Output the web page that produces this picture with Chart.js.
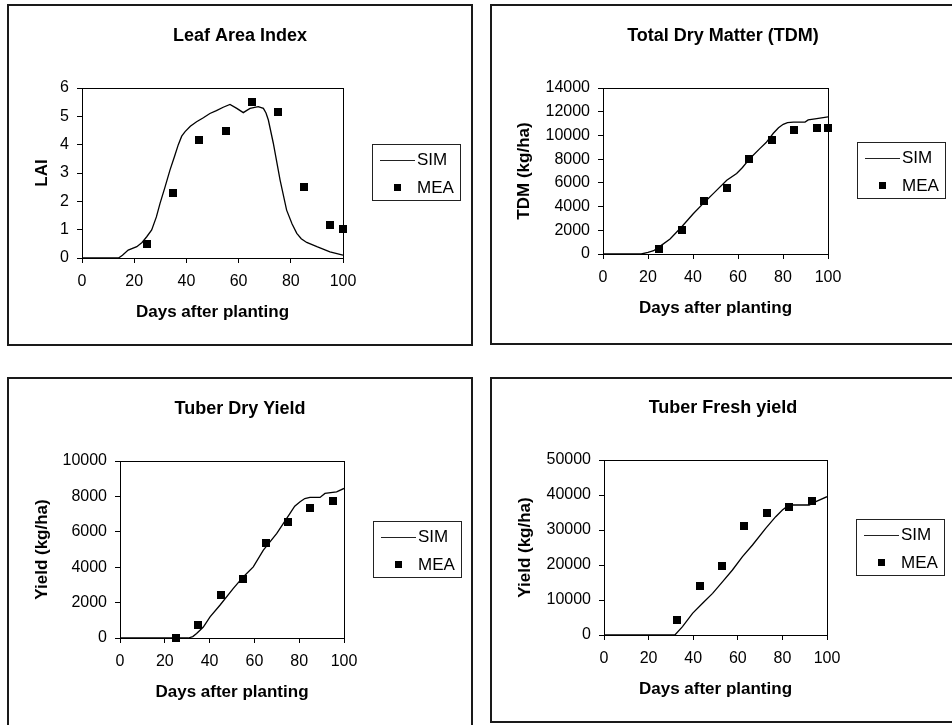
<!DOCTYPE html>
<html>
<head>
<meta charset="utf-8">
<script src="https://cdn.jsdelivr.net/npm/chart.js@4.4.1/dist/chart.umd.min.js"></script>
<style>
html, body { margin: 0; padding: 0; background: #fff; overflow: hidden; width: 952px; height: 725px; }
.panel { position: absolute; border: 2px solid #1a1a1a; box-sizing: border-box; }
.panel canvas { position: absolute; left: -2px; top: -2px; }
</style>
</head>
<body>
<div class="panel" style="left:7px;top:4px;width:466px;height:342px"><canvas id="lai" width="466" height="342"></canvas></div>
<div class="panel" style="left:490px;top:4px;width:472px;height:341px"><canvas id="tdm" width="466" height="341"></canvas></div>
<div class="panel" style="left:7px;top:377px;width:466px;height:362px"><canvas id="dry" width="466" height="360"></canvas></div>
<div class="panel" style="left:490px;top:377px;width:472px;height:346px"><canvas id="fresh" width="466" height="346"></canvas></div>

<script>
// x axis (days after planting)
const dayTicks = [0, 20, 40, 60, 80, 100];

// Leaf Area Index
const laiTicks = [0, 1, 2, 3, 4, 5, 6];
const laiSimDays = [0, 14, 15.5, 17.7, 21, 23, 24.8, 26.7, 28.5, 29.9, 31.8, 33.7, 35.5, 36.9, 38.2, 39.5, 41.5, 43.9, 46.5, 49, 51.5, 54.1, 56.7, 59.3, 61.8, 63, 64.4, 67.5, 69.5, 70.5, 71.4, 73.3, 75.9, 78.4, 80.5, 82.3, 84, 86.1, 90, 95, 100];
const laiSimValues = [0, 0, 0.1, 0.28, 0.4, 0.55, 0.75, 0.99, 1.45, 1.93, 2.5, 3.1, 3.6, 4.0, 4.3, 4.46, 4.65, 4.81, 4.95, 5.1, 5.2, 5.32, 5.42, 5.28, 5.13, 5.2, 5.28, 5.34, 5.28, 5.12, 4.87, 4.05, 2.75, 1.69, 1.2, 0.87, 0.68, 0.55, 0.4, 0.22, 0.1];
const laiMeaDays = [25, 35, 45, 55, 65, 75, 85, 95, 100];
const laiMeaValues = [0.5, 2.3, 4.15, 4.5, 5.5, 5.15, 2.5, 1.15, 1.02];

// Total Dry Matter
const tdmTicks = [0, 2000, 4000, 6000, 8000, 10000, 12000, 14000];
const tdmSimDays = [0, 17, 20, 22.5, 25, 29.8, 35, 40.1, 45, 49, 55, 59.4, 62, 65.3, 69.8, 72.5, 75.7, 78, 80.1, 82, 84.6, 89.8, 91.2, 95, 100];
const tdmSimValues = [0, 0, 130, 280, 600, 1270, 2300, 3390, 4350, 5090, 6220, 6790, 7300, 8060, 8910, 9400, 10180, 10650, 10940, 11080, 11120, 11120, 11310, 11420, 11560];
const tdmMeaDays = [25, 35, 45, 55, 65, 75, 85, 95, 100];
const tdmMeaValues = [450, 2000, 4500, 5600, 8000, 9600, 10450, 10650, 10650];

// Tuber Dry Yield
const dryTicks = [0, 2000, 4000, 6000, 8000, 10000];
const drySimDays = [0, 30.5, 32.5, 34.2, 37.2, 40.2, 44.6, 50.6, 55, 59.5, 64, 70, 75.9, 78, 80.4, 82.5, 84.8, 89.3, 91.5, 96.7, 100];
const drySimValues = [0, 0, 80, 250, 620, 1190, 1850, 2800, 3450, 4020, 4960, 5910, 7040, 7450, 7700, 7880, 7940, 7940, 8170, 8260, 8450];
const dryMeaDays = [25, 35, 45, 55, 65, 75, 85, 95];
const dryMeaValues = [0, 720, 2450, 3320, 5340, 6570, 7320, 7750];

// Tuber Fresh yield
const freshTicks = [0, 10000, 20000, 30000, 40000, 50000];
const freshSimDays = [0, 31.8, 35.2, 39.7, 44.2, 48.7, 53.2, 57.6, 62.1, 66.6, 72.5, 77, 80, 83, 92, 95, 100];
const freshSimValues = [0, 0, 2400, 6190, 9050, 11900, 15240, 18570, 22380, 25710, 30480, 33810, 35710, 37140, 37140, 38090, 39520];
const freshMeaDays = [32.6, 43, 52.8, 62.6, 73.3, 83, 93.2];
const freshMeaValues = [4200, 14000, 19800, 31100, 35000, 36700, 38400];

const FONT = '"Liberation Sans", Arial, sans-serif';
const titleSize = 18, axisTitleSize = 17, tickSize = 16, legendSize = 17;

Chart.defaults.font.family = FONT;
Chart.defaults.color = '#000';

// black square marker
const square = document.createElement('canvas');
square.width = 8;
square.height = 8;
square.getContext('2d').fillRect(0, 0, 8, 8);

function pairs(xs, ys) {
    return xs.map((x, i) => ({ x: x, y: ys[i] }));
}

// frame round the plot area
const framePlugin = {
    id: 'frame',
    afterDatasetsDraw(chart) {
        const a = chart.chartArea;
        const ctx = chart.ctx;
        ctx.save();
        ctx.strokeStyle = '#000';
        ctx.lineWidth = 1;
        ctx.strokeRect(Math.round(a.left) + 0.5, Math.round(a.top) + 0.5, Math.round(a.right - a.left), Math.round(a.bottom - a.top));
        ctx.restore();
    }
};

// boxed legend to the right of the plot
const boxLegend = {
    id: 'boxLegend',
    afterDraw(chart) {
        const a = chart.chartArea;
        const ctx = chart.ctx;
        const left = Math.round(a.right + 29);
        const top = Math.round((a.top + a.bottom) / 2 - 29);
        const sets = chart.data.datasets;
        ctx.save();
        ctx.strokeStyle = '#222';
        ctx.lineWidth = 1;
        ctx.strokeRect(left + 0.5, top + 0.5, 88, 56);
        ctx.font = legendSize + 'px ' + FONT;
        ctx.fillStyle = '#000';
        ctx.textBaseline = 'middle';
        // SIM line
        ctx.beginPath();
        ctx.moveTo(left + 8, top + 16.5);
        ctx.lineTo(left + 43, top + 16.5);
        ctx.stroke();
        ctx.fillText(sets[0].label, left + 45, top + 16);
        // MEA marker
        ctx.fillRect(left + 22, top + 40, 7, 7);
        ctx.fillText(sets[1].label, left + 45, top + 44);
        ctx.restore();
    }
};

function makeChart(id, cfg) {
    const canvas = document.getElementById(id);
    const W = canvas.width, H = canvas.height;
    const a = cfg.area;
    const yTicks = cfg.yTicks;
    const tHalf = titleSize * 1.2 / 2;
    const aHalf = axisTitleSize * 1.2 / 2;
    return new Chart(canvas, {
        type: 'scatter',
        data: {
            datasets: [{
                label: 'SIM',
                data: pairs(cfg.simDays, cfg.simValues),
                showLine: true,
                borderColor: '#000',
                borderWidth: 1.3,
                pointRadius: 0,
                tension: 0
            }, {
                label: 'MEA',
                data: pairs(cfg.meaDays, cfg.meaValues),
                showLine: false,
                pointStyle: square,
                pointRadius: 4,
                backgroundColor: '#000',
                borderColor: '#000',
                clip: false
            }]
        },
        options: {
            responsive: false,
            animation: false,
            events: [],
            layout: { padding: 0 },
            plugins: {
                legend: { display: false },
                tooltip: { enabled: false },
                title: {
                    display: true,
                    text: cfg.title,
                    color: '#000',
                    font: { size: titleSize, weight: 'bold' },
                    padding: { top: cfg.titleY - tHalf, bottom: a.T - cfg.titleY - tHalf }
                }
            },
            scales: {
                x: {
                    type: 'linear',
                    min: dayTicks[0],
                    max: dayTicks[dayTicks.length - 1],
                    afterBuildTicks: s => { s.ticks = dayTicks.map(v => ({ value: v })); },
                    afterFit: s => { s.height = H - a.B; },
                    grid: { drawOnChartArea: false, drawTicks: true, tickLength: 5, color: '#000' },
                    border: { display: true, color: '#000', width: 1 },
                    ticks: { color: '#000', font: { size: tickSize }, padding: 9, maxRotation: 0, autoSkip: false, callback: v => String(v) },
                    title: {
                        display: true,
                        text: 'Days after planting',
                        color: '#000',
                        font: { size: axisTitleSize, weight: 'bold' },
                        padding: { top: 0, bottom: H - a.B - 54 - aHalf }
                    }
                },
                y: {
                    type: 'linear',
                    min: yTicks[0],
                    max: yTicks[yTicks.length - 1],
                    afterBuildTicks: s => { s.ticks = yTicks.map(v => ({ value: v })); },
                    afterFit: s => { s.width = a.L; },
                    grid: { drawOnChartArea: false, drawTicks: true, tickLength: 5, color: '#000' },
                    border: { display: true, color: '#000', width: 1 },
                    ticks: { color: '#000', font: { size: tickSize }, padding: 8, autoSkip: false, callback: v => String(v) },
                    title: {
                        display: true,
                        text: cfg.yTitle,
                        color: '#000',
                        font: { size: axisTitleSize, weight: 'bold' },
                        padding: { top: cfg.yTitleX - aHalf, bottom: 0 }
                    }
                },
                // empty axis that only keeps room for the legend box
                room: {
                    type: 'linear',
                    position: 'right',
                    display: true,
                    afterFit: s => { s.width = W - a.R; },
                    grid: { display: false },
                    border: { display: false },
                    ticks: { display: false }
                }
            }
        },
        plugins: [framePlugin, boxLegend]
    });
}

makeChart('lai', {
    title: 'Leaf Area Index', yTitle: 'LAI', yTicks: laiTicks,
    simDays: laiSimDays, simValues: laiSimValues, meaDays: laiMeaDays, meaValues: laiMeaValues,
    area: { L: 75, R: 336, T: 84, B: 254 }, titleY: 32, yTitleX: 35
});
makeChart('tdm', {
    title: 'Total Dry Matter (TDM)', yTitle: 'TDM (kg/ha)', yTicks: tdmTicks,
    simDays: tdmSimDays, simValues: tdmSimValues, meaDays: tdmMeaDays, meaValues: tdmMeaValues,
    area: { L: 113, R: 338, T: 84, B: 250 }, titleY: 32, yTitleX: 34
});
makeChart('dry', {
    title: 'Tuber Dry Yield', yTitle: 'Yield (kg/ha)', yTicks: dryTicks,
    simDays: drySimDays, simValues: drySimValues, meaDays: dryMeaDays, meaValues: dryMeaValues,
    area: { L: 113, R: 337, T: 84, B: 261 }, titleY: 32, yTitleX: 35
});
makeChart('fresh', {
    title: 'Tuber Fresh yield', yTitle: 'Yield (kg/ha)', yTicks: freshTicks,
    simDays: freshSimDays, simValues: freshSimValues, meaDays: freshMeaDays, meaValues: freshMeaValues,
    area: { L: 114, R: 337, T: 83, B: 258 }, titleY: 31, yTitleX: 35
});
</script>
</body>
</html>
